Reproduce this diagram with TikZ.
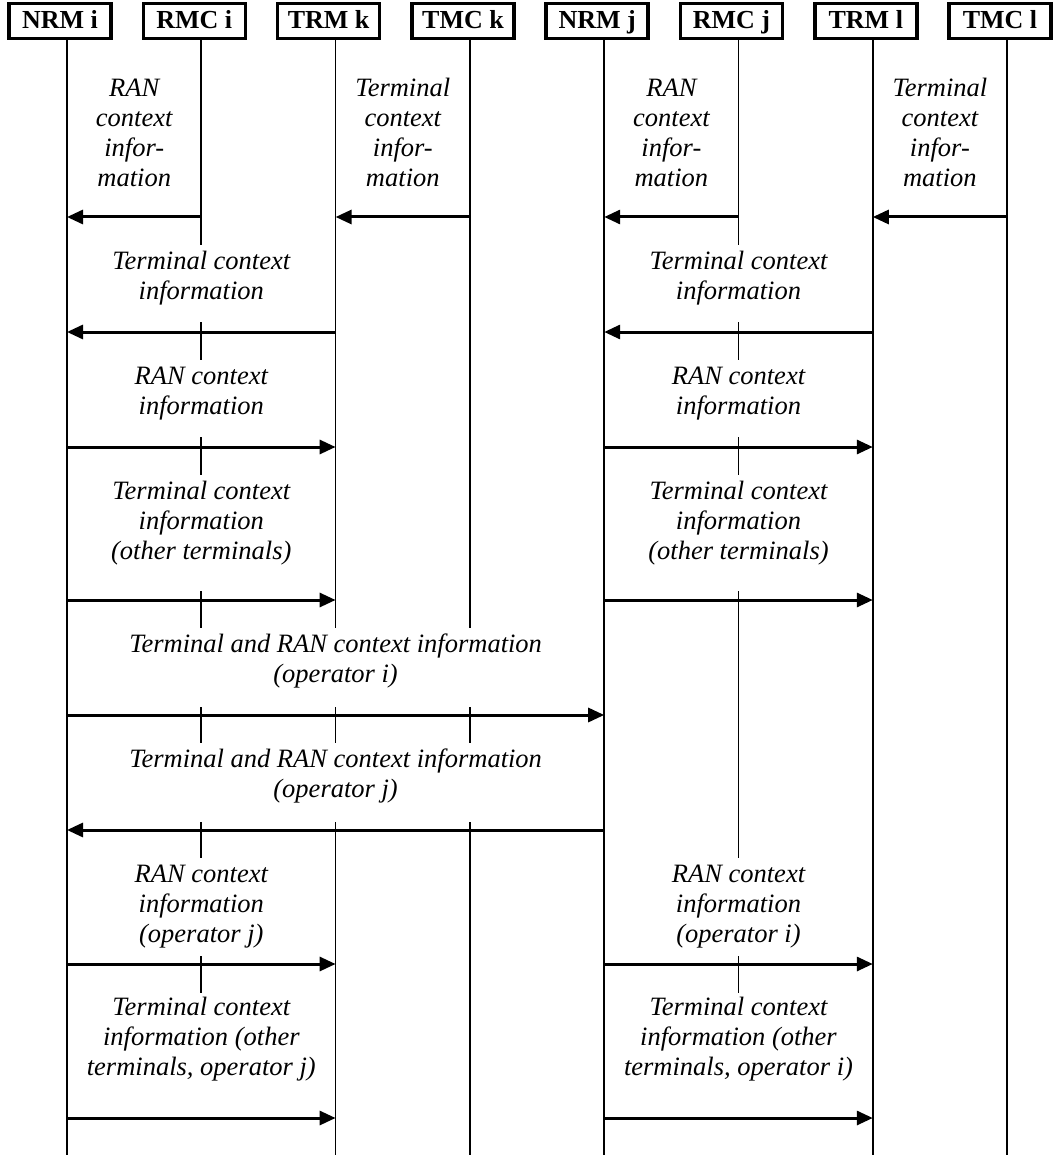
\documentclass[tikz,border=0pt]{standalone}
\usepackage{fontspec}
\setmainfont{Liberation Serif}
\usetikzlibrary{arrows.meta}
\pgfdeclarelayer{lines}
\pgfsetlayers{lines,main}
% struts that fix the padding above the first and below the last line of a label
\newcommand{\tpad}[1]{\rule{0pt}{#1pt}}
\newcommand{\bpad}[1]{\rule[-#1pt]{0pt}{#1pt}}
\begin{document}
\begin{tikzpicture}[x=1pt,y=-1pt,
  head/.style={draw, line width=3.5pt, minimum height=35pt, minimum width=102pt,
    inner sep=0pt, text height=19pt, text depth=4pt,
    font=\fontsize{26}{30}\selectfont\bfseries},
  life/.style={line width=1.7pt},
  msg/.style={line width=3pt, -{Triangle[length=16pt,width=14pt]}},
  lab/.style={fill=white, align=center, inner xsep=4pt, inner ysep=0pt, anchor=north,
    font=\fontsize{26.5}{30}\selectfont\itshape}]

\useasboundingbox (0,0) rectangle (1057,1155);

% entity headers
\node[head] (nrmi) at (60,21)    {NRM i};
\node[head] (rmci) at (194.3,21) {RMC i};
\node[head] (trmk) at (328.6,21) {TRM k};
\node[head] (tmck) at (463,21)   {TMC k};
\node[head] (nrmj) at (597.2,21) {NRM j};
\node[head] (rmcj) at (731.5,21) {RMC j};
\node[head] (trml) at (865.8,21) {TRM l};
\node[head] (tmcl) at (1000,21)  {TMC l};

% lifeline tops (just below the headers)
\coordinate (lnrmi) at (67,38);
\coordinate (lrmci) at (201.3,38);
\coordinate (ltrmk) at (335.6,38);
\coordinate (ltmck) at (470,38);
\coordinate (lnrmj) at (604.2,38);
\coordinate (lrmcj) at (738.5,38);
\coordinate (ltrml) at (872.8,38);
\coordinate (ltmcl) at (1007,38);
\coordinate (bot) at (0,1155);

% message rows
\coordinate (r1) at (0,217);
\coordinate (r2) at (0,332);
\coordinate (r3) at (0,447);
\coordinate (r4) at (0,600);
\coordinate (r5) at (0,715);
\coordinate (r6) at (0,830);
\coordinate (r7) at (0,964);
\coordinate (r8) at (0,1118);

% labels (white background hides the lifelines behind them)
\node[lab] (l1a) at (134.2,76) {\tpad{20}RAN\\context\\infor-\\mation};
\node[lab] (l1b) at (402.8,76) {\tpad{20}Terminal\\context\\infor-\\mation};
\node[lab] (l1c) at (671.4,76) {\tpad{20}RAN\\context\\infor-\\mation};
\node[lab] (l1d) at (939.9,76) {\tpad{20}Terminal\\context\\infor-\\mation};

\node[lab] (l2a) at (201.3,245) {\tpad{24}Terminal context\\information\bpad{23}};
\node[lab] (l2b) at (738.5,245) {\tpad{24}Terminal context\\information\bpad{23}};

\node[lab] (l3a) at (201.3,360) {\tpad{24}RAN context\\information\bpad{23}};
\node[lab] (l3b) at (738.5,360) {\tpad{24}RAN context\\information\bpad{23}};

\node[lab] (l4a) at (201.3,475) {\tpad{24}Terminal context\\information\\(other terminals)\bpad{32}};
\node[lab] (l4b) at (738.5,475) {\tpad{24}Terminal context\\information\\(other terminals)\bpad{32}};

\node[lab] (l5) at (335.6,628) {\tpad{24}Terminal and RAN context information\\(operator i)\bpad{25}};
\node[lab] (l6) at (335.6,743) {\tpad{24}Terminal and RAN context information\\(operator j)\bpad{25}};

\node[lab] (l7a) at (201.3,858) {\tpad{24}RAN context\\information\\(operator j)\bpad{14}};
\node[lab] (l7b) at (738.5,858) {\tpad{24}RAN context\\information\\(operator i)\bpad{14}};

\node[lab] (l8a) at (201.3,993) {\tpad{22}Terminal context\\information (other\\terminals, operator j)\bpad{8}};
\node[lab] (l8b) at (738.5,993) {\tpad{22}Terminal context\\information (other\\terminals, operator i)\bpad{8}};

% lifelines, kept beneath the labels
\begin{pgfonlayer}{lines}
  \foreach \l in {lnrmi,ltrmk,ltmck,lnrmj,ltrml,ltmcl}
    \draw[life] (\l) -- (\l |- bot);
  \draw[life] (lrmci) -- (lrmci |- l8a.north);
  \draw[life] (lrmcj) -- (lrmcj |- l8b.north);
\end{pgfonlayer}

% messages, operator i side
\draw[msg] (lrmci |- r1) -- (lnrmi |- r1);
\draw[msg] (ltmck |- r1) -- (ltrmk |- r1);
\draw[msg] (ltrmk |- r2) -- (lnrmi |- r2);
\draw[msg] (lnrmi |- r3) -- (ltrmk |- r3);
\draw[msg] (lnrmi |- r4) -- (ltrmk |- r4);
\draw[msg] (lnrmi |- r7) -- (ltrmk |- r7);
\draw[msg] (lnrmi |- r8) -- (ltrmk |- r8);

% messages between the two operators
\draw[msg] (lnrmi |- r5) -- (lnrmj |- r5);
\draw[msg] (lnrmj |- r6) -- (lnrmi |- r6);

% messages, operator j side
\draw[msg] (lrmcj |- r1) -- (lnrmj |- r1);
\draw[msg] (ltmcl |- r1) -- (ltrml |- r1);
\draw[msg] (ltrml |- r2) -- (lnrmj |- r2);
\draw[msg] (lnrmj |- r3) -- (ltrml |- r3);
\draw[msg] (lnrmj |- r4) -- (ltrml |- r4);
\draw[msg] (lnrmj |- r7) -- (ltrml |- r7);
\draw[msg] (lnrmj |- r8) -- (ltrml |- r8);
\end{tikzpicture}
\end{document}
